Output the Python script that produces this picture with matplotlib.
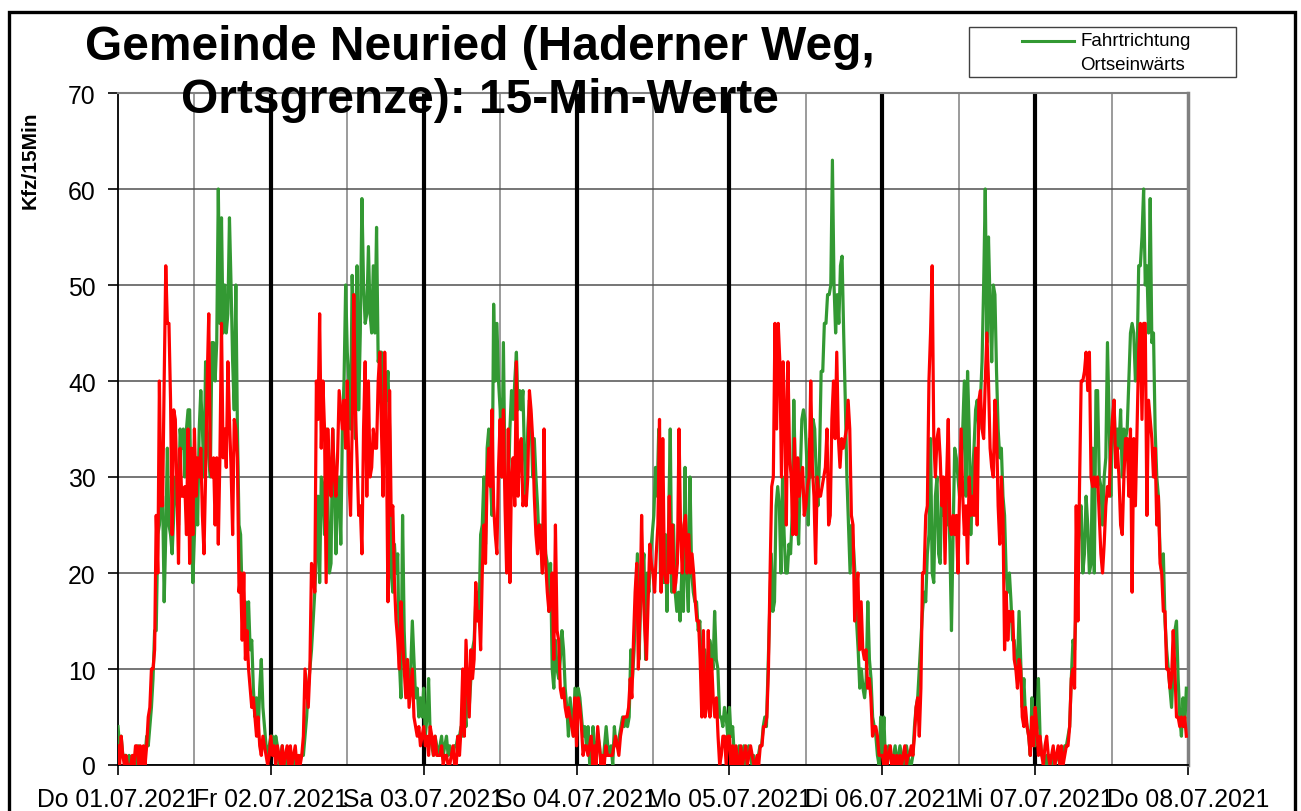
import numpy as np
import matplotlib
matplotlib.use("Agg")
import matplotlib.pyplot as plt
from matplotlib.patches import Rectangle
from matplotlib.lines import Line2D

plt.rcParams['font.family'] = ['Liberation Sans', 'DejaVu Sans']

day_labels = ["Do 01.07.2021", "Fr 02.07.2021", "Sa 03.07.2021", "So 04.07.2021",
              "Mo 05.07.2021", "Di 06.07.2021", "Mi 07.07.2021", "Do 08.07.2021"]

# 15-min values, Fahrtrichtung Ortseinwärts (green)
green_do01 = [4,2,3,1, 1,1,0,1, 0,0,1,0, 1,2,0,1, 0,1,3,2, 4,6,9,14, 14,24,25,28, 28,17,24,33,
              25,24,22,26, 30,28,25,35, 33,35,30,35, 37,37,26,19, 24,30,25,35, 39,35,30,42,
              35,32,30,44, 44,40,44,60, 46,57,45,50, 45,47,57,50, 42,37,50,35, 25,24,17,16,
              17,14,17,12, 13,8,5,7, 3,8,11,6, 4,2,1,2]
green_fr02 = [3,3,1,3,2,0,1,2,0,1,0,0,1,0,0,1,0,0,1,1,
              1,3,5,8,10,12,15,18,22,28,19,30,29,24,35,28,20,21,35,30,22,28,30,23,35,40,50,43,
              40,35,51,45,34,52,37,45,59,50,46,47,54,47,45,52,45,56,42,43,43,35,40,38,41,35,
              20,18,23,20,22,11,7,26,14,9,8,9,10,15,11,7,8,5,7,5]
green_sa03 = [8,3,5,9,3,2,1,3,2,1,2,3,1,2,3,1,2,1,1,2,2,3,3,4,3,6,4,10,6,9,12,13,17,18,15,
              24,25,30,23,33,35,30,26,48,40,46,40,37,30,44,30,26,28,35,39,36,40,43,37,39,37,
              39,32,28,35,38,36,30,34,30,27,23,25,20,25,22,21,16,21,10,8,13,10,9,11,14,12,8,
              6,3,7,5,3,8]
green_so04 = [3,8,7,5,3,4,2,4,0,0,4,2,1,3,2,0,0,2,4,2,1,2,0,4,2,2,3,4,5,4,5,4,5,12,9,12,17,
              22,11,17,20,22,11,20,18,22,24,26,31,28,35,20,23,19,24,16,25,35,18,25,18,16,18,
              15,20,16,31,20,16,30,20,18,17,17,14,15,9,10,12,10,9,13,12,10,16,11,10,5,5,4,6,
              5,3]
green_mo05 = [6,3,4,1,0,1,2,0,1,2,0,1,2,1,0,1,0,0,1,2,2,4,5,4,10,16,22,16,17,27,29,27,20,30,
              24,20,20,23,22,26,38,30,26,23,30,36,37,36,32,25,34,30,36,35,30,27,32,41,41,46,
              46,49,49,50,63,50,45,49,46,52,53,45,38,30,25,20,25,23,20,15,12,8,10,8,7,9,17,11,
              9,5,4,3,1,0,5]
green_di06 = [1,5,0,1,2,1,0,1,2,0,1,2,1,0,1,2,1,0,0,1,4,6,7,10,13,16,18,17,22,24,34,20,19,28,
              30,22,21,30,26,28,25,28,23,14,24,33,32,30,28,30,35,40,28,41,35,24,30,33,37,38,
              35,38,42,50,60,44,55,48,42,50,49,41,35,32,33,28,26,20,18,20,17,13,13,10,10,16,
              11,6,9,5,4,3,1,7,3]
green_mi07 = [2,4,9,3,1,1,0,1,0,1,0,1,0,1,1,0,0,1,2,2,3,4,9,13,12,17,22,26,27,20,22,28,25,20,
              21,33,20,39,39,30,29,25,30,32,44,36,28,35,38,32,35,33,37,30,35,34,35,40,45,46,
              45,40,42,52,52,55,60,50,52,45,59,44,45,35,30,28,22,20,22,15,12,10,8,6,10,14,15,
              9,5,3,7,4,8]

# 15-min values, other direction (red)
red_do01 = [2,0,3,1, 0,1,0,0, 0,1,0,2, 2,0,2,0, 2,0,2,5, 6,10,10,12, 26,20,40,27, 27,40,52,46,
            46,38,24,37, 36,29,21,33, 28,28,29,24, 35,21,33,24, 35,28,32,30, 33,26,22,30,
            40,47,31,30, 32,25,32,23, 32,46,32,35, 31,42,36,31, 24,36,35,32, 18,20,13,20,
            11,14,10,8, 6,7,5,3, 5,2,1,3, 2,1,0,1]
red_fr02 = [3,1,2,0,2,1,0,2,0,1,2,0,2,0,1,2,0,1,0,1,
            3,10,8,6,10,21,20,18,40,36,47,33,40,35,19,35,30,28,35,30,28,32,39,37,35,38,33,40,
            30,26,35,49,37,32,26,27,22,35,42,28,40,30,31,35,33,33,40,43,35,28,43,35,17,39,
            26,27,19,15,13,10,17,13,10,7,11,6,8,10,5,4,3,4,2,3]
red_sa03 = [4,2,3,1,4,3,1,3,1,1,1,2,0,1,1,0,0,1,2,0,0,3,1,4,10,3,13,9,5,12,9,11,19,15,16,12,
            20,25,21,30,33,29,37,27,24,22,31,36,30,37,27,20,35,19,30,32,27,42,28,33,34,27,
            28,27,30,39,37,34,28,24,22,25,23,20,35,21,18,16,17,20,11,25,14,13,8,7,8,6,5,6,
            5,4,3,7]
red_so04 = [2,7,6,4,1,2,2,1,2,3,0,2,0,4,2,0,1,0,2,1,1,1,1,2,3,2,1,3,4,5,5,5,6,9,7,13,18,21,
            10,16,26,18,14,11,17,23,21,20,18,22,25,36,18,34,20,19,19,28,20,25,18,19,21,35,
            24,20,25,26,20,24,20,22,20,17,15,15,11,5,14,5,6,14,5,11,7,5,7,3,0,1,3,3,0,3]
red_mo05 = [3,0,2,0,2,0,0,2,0,1,2,0,1,2,1,0,0,1,0,2,2,4,4,5,10,20,29,30,46,35,46,42,30,42,
            37,25,42,32,30,24,34,24,32,28,30,31,26,27,29,30,40,31,28,21,30,28,28,29,30,31,
            35,25,26,36,40,34,43,34,31,34,33,34,35,38,35,26,25,15,18,20,12,17,12,11,12,8,9,
            7,3,4,4,3,1,1]
red_di06 = [1,0,2,0,1,2,0,1,0,1,0,1,0,1,2,0,1,1,2,1,3,6,7,3,8,20,20,26,27,40,45,52,34,30,34,
            35,32,27,30,21,30,36,25,24,26,24,26,20,28,35,28,24,27,21,30,26,28,26,33,25,38,
            39,35,34,40,45,40,33,31,30,38,35,27,23,30,26,12,18,13,16,15,16,11,10,8,11,10,5,
            4,6,4,3,1,5,2]
red_mi07 = [6,4,1,3,1,0,2,3,1,0,1,2,0,1,2,0,2,0,1,2,2,4,9,10,8,27,15,29,40,40,41,43,39,43,
            30,29,30,29,30,26,22,20,23,27,29,28,33,36,38,31,33,30,25,24,30,34,34,28,35,18,
            34,27,35,43,46,36,46,46,26,38,36,34,30,33,25,28,21,20,16,16,10,10,8,9,14,10,5,5,
            4,5,4,5,3]

green_days = [green_do01, green_fr02, green_sa03, green_so04, green_mo05, green_di06, green_mi07]
red_days = [red_do01, red_fr02, red_sa03, red_so04, red_mo05, red_di06, red_mi07]


def build(days):
    xs, ys = [], []
    for d, vals in enumerate(days):
        n = len(vals)
        xs.extend(d + np.arange(n) / n)
        ys.extend(vals)
    return np.array(xs), np.array(ys)


W, H = 1301, 812
fig = plt.figure(figsize=(W / 100, H / 100), dpi=100)


def fx(px):
    return px / W


def fy(py):
    return 1 - py / H


ax = fig.add_axes([fx(118), fy(766), fx(1188) - fx(118), fy(94) - fy(766)])
ax.set_xlim(0, 7)
ax.set_ylim(0, 70)
ax.set_yticks(range(0, 71, 10))
ax.set_xticks(range(len(day_labels)))
ax.set_xticklabels(day_labels)
ax.set_xticks(np.arange(0.5, 7, 1), minor=True)
ax.set_axisbelow(True)
ax.grid(axis='y', which='major', color='#505050', lw=1.1)
ax.grid(axis='x', which='minor', color='#808080', lw=1.1)
ax.tick_params(axis='x', which='minor', length=0)
ax.tick_params(axis='both', which='major', direction='out', length=7, width=1.2,
               labelsize=17.8, colors='black')
ax.tick_params(axis='y', pad=9)
ax.tick_params(axis='x', pad=9)

for d in range(1, 7):
    ax.axvline(d, color='black', lw=3, zorder=1.5)

gx, gy = build(green_days)
rx, ry = build(red_days)
ax.plot(gx, gy, color='#339933', lw=2.3, zorder=3)
ax.plot(rx, ry, color='#ff0000', lw=2.3, zorder=4)

ax.spines['left'].set_color('black')
ax.spines['left'].set_linewidth(1.3)
ax.spines['bottom'].set_color('black')
ax.spines['bottom'].set_linewidth(1.3)
ax.spines['top'].set_color('#808080')
ax.spines['top'].set_linewidth(1.5)
ax.spines['right'].set_color('#808080')
ax.spines['right'].set_linewidth(2.5)

# title
fig.text(fx(480), fy(60), "Gemeinde Neuried (Haderner Weg,", ha='center', va='baseline',
         fontsize=34.5, fontweight='bold')
fig.text(fx(480), fy(113), "Ortsgrenze): 15-Min-Werte", ha='center', va='baseline',
         fontsize=34.5, fontweight='bold')

# y label
fig.text(fx(30), fy(160), "Kfz/15Min", rotation=90, ha='center', va='center',
         fontsize=15, fontweight='bold')

# legend box
fig.add_artist(Rectangle((fx(969), fy(78)), fx(1236) - fx(969), fy(28) - fy(78),
                         transform=fig.transFigure, fill=False, ec='#404040', lw=1.0))
fig.add_artist(Line2D([fx(1022), fx(1074)], [fy(42), fy(42)], transform=fig.transFigure,
                      color='#339933', lw=2.2))
fig.text(fx(1080), fy(42), "Fahrtrichtung", ha='left', va='center', fontsize=13.5)
fig.text(fx(1080), fy(65), "Ortseinwärts", ha='left', va='center', fontsize=13.5)

# outer frame
fig.add_artist(Rectangle((fx(9), -0.05), fx(1295) - fx(9), fy(13) + 0.05,
                         transform=fig.transFigure, fill=False, ec='black', lw=2.4))

fig.savefig("out.png", dpi=100)
